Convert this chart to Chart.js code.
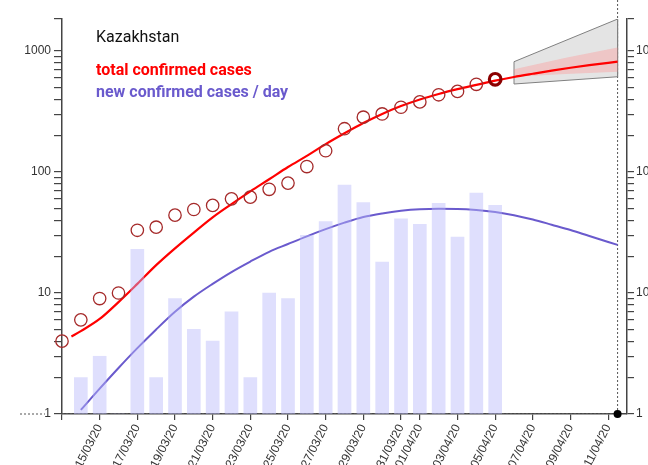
<!DOCTYPE html>
<html><head><meta charset="utf-8">
<script src="https://cdn.jsdelivr.net/npm/chart.js@4"></script>
<style>html,body{margin:0;padding:0;background:#fff;overflow:hidden}#wrap{width:648px;height:465px;overflow:hidden;position:relative}</style>
</head><body><div id="wrap"><canvas id="c" width="648" height="465"></canvas></div>
<script>
// ---- data (days since 13/03/20) ----
const caseDays   = [0,1,2,3,4,5,6,7,8,9,10,11,12,13,14,15,16,17,18,19,20,21,22,23];
const totalCases = [4,6,9,10,33,35,44,49,53,60,62,72,81,111,150,228,284,302,343,380,435,464,531,584];
const newDays    = [1,2,3,4,5,6,7,8,9,10,11,12,13,14,15,16,17,18,19,20,21,22,23];
const newCases   = [2,3,1,23,2,9,5,4,7,2,10,9,30,39,78,56,18,41,37,55,29,67,53];
const fitDays    = [0.5,1,2,3,4,5,6,7,8,9,10,11,12,13,14,15,16,17,18,19,20,21,22,23,24,25,26,27,28,29.5];
const fitTotal   = [4.37,4.84,6.1,8.41,11.9,17.0,23.4,31.6,42.2,54.3,69.2,87.1,110,136,170,209,254,302,351,398,442,484,525,569,610,649,689,728,764,817];
const fitNewDays = [1,2,3,4,5,6,7,8,9,10,11,12,13,14,15,16,17,18,19,20,21,22,23,24,25,26,27,28,29.5];
const fitNew     = [1.08,1.62,2.4,3.5,5.0,7.0,9.33,11.9,14.9,18.2,21.9,25.4,29.4,33.7,38.2,42.5,45.5,47.8,49.2,49.6,49.5,48.6,46.8,44,40.5,36.7,33.2,29.6,25];
const outerDays  = [24,24,29.5,29.5,24];
const outerVals  = [534,816,1838,613,534];
const innerDays  = [24,26.75,29.5,29.5,26.75,24];
const innerVals  = [613,645,675,1070,880,706];
const forecastEnd = 29.5;
const xTickDays   = [0,2,4,6,8,10,12,14,16,18,19,21,23,25,27,29];
const xTickLabels = ['','15/03/20','17/03/20','19/03/20','21/03/20','23/03/20','25/03/20','27/03/20','29/03/20','31/03/20','01/04/20','03/04/20','05/04/20','07/04/20','09/04/20','11/04/20'];
const yTickValues = [1,2,3,4,5,6,7,8,9,10,20,30,40,50,60,70,80,90,100,200,300,400,500,600,700,800,900,1000,1840];
const yLabelled   = [1,10,100,1000];
const yMin = 1, yMax = 1840, xMin = 0, xMax = 30;

const pts = (xs, ys) => xs.map((x, i) => ({x, y: ys[i]}));
const lastIdx = caseDays.length - 1;

const axisColor = '#444';
const tickFont = {family: 'Liberation Sans', size: 12};
function yAxis(pos, w, tl, pad) {
  return {
    type: 'logarithmic', position: pos, min: yMin, max: yMax, bounds: 'data', offset: false,
    afterFit(s) { s.width = w; },
    afterBuildTicks(s) { s.ticks = yTickValues.map(v => ({value: v})); },
    ticks: {autoSkip: false, padding: pad, color: '#333', font: tickFont,
      callback: v => yLabelled.includes(v) ? String(v) : ''},
    grid: {display: true, drawOnChartArea: false, drawTicks: true, tickLength: tl, color: axisColor, lineWidth: 1.2, offset: false},
    border: {display: true, color: axisColor, width: 1.5}
  };
}

const overlay = {
  id: 'overlay',
  beforeDatasetsDraw(chart) {
    const ctx = chart.ctx, xs = chart.scales.x, ys = chart.scales.y;
    const xe = xs.getPixelForValue(forecastEnd), y1 = ys.getPixelForValue(yMin);
    ctx.save();
    ctx.strokeStyle = '#555'; ctx.lineWidth = 1; ctx.setLineDash([2, 2]);
    ctx.beginPath(); ctx.moveTo(xe, 0); ctx.lineTo(xe, y1); ctx.stroke();
    ctx.beginPath(); ctx.moveTo(20, y1); ctx.lineTo(45, y1); ctx.stroke();
    ctx.beginPath(); ctx.moveTo(chart.chartArea.left, y1 - 0.5); ctx.lineTo(xe, y1 - 0.5); ctx.stroke();
    ctx.restore();
  },
  afterDraw(chart) {
    const ctx = chart.ctx;
    ctx.save();
    ctx.textBaseline = 'alphabetic'; ctx.textAlign = 'left';
    ctx.font = '16px Roboto'; ctx.fillStyle = '#111';
    ctx.fillText('Kazakhstan', 96, 41.5);
    ctx.font = 'bold 16px Roboto'; ctx.fillStyle = '#ff0000';
    ctx.fillText('total confirmed cases', 96, 75);
    ctx.fillStyle = '#6a5acd';
    ctx.fillText('new confirmed cases / day', 96, 96.5);
    ctx.restore();
  }
};

new Chart(document.getElementById('c'), {
  type: 'line',
  data: {
    datasets: [
      {type: 'scatter', data: [{x: forecastEnd, y: yMin}], pointRadius: 4, pointBackgroundColor: '#000', pointBorderWidth: 0, clip: false, order: 0},
      {type: 'scatter', data: pts(caseDays, totalCases), showLine: false,
        pointRadius: caseDays.map((d, i) => i === lastIdx ? 5.8 : 6.2),
        pointBorderWidth: caseDays.map((d, i) => i === lastIdx ? 3.2 : 1.3),
        pointBorderColor: caseDays.map((d, i) => i === lastIdx ? '#8b0000' : '#a52a2a'),
        pointBackgroundColor: 'rgba(0,0,0,0)', clip: false, order: 1},
      {type: 'bar', data: pts(newDays, newCases), backgroundColor: 'rgba(185,185,250,0.45)', barThickness: 13, order: 2},
      {data: pts(fitDays, fitTotal), borderColor: '#ff0000', borderWidth: 2.2, pointRadius: 0, cubicInterpolationMode: 'monotone', fill: false, order: 3},
      {data: pts(fitNewDays, fitNew), borderColor: '#6a5acd', borderWidth: 2, pointRadius: 0, cubicInterpolationMode: 'monotone', fill: false, order: 4},
      {data: pts(innerDays, innerVals), borderWidth: 0, borderColor: 'rgba(0,0,0,0)', backgroundColor: 'rgba(255,140,140,0.35)', pointRadius: 0, tension: 0, fill: 'shape', order: 5},
      {data: pts(outerDays, outerVals), borderWidth: 1, borderColor: '#808080', backgroundColor: 'rgba(190,190,190,0.42)', pointRadius: 0, tension: 0, fill: 'shape', order: 6}
    ]
  },
  options: {
    responsive: false, animation: false, devicePixelRatio: 1,
    layout: {padding: {top: 19, left: 0, right: 0, bottom: 0}},
    plugins: {legend: {display: false}, tooltip: {enabled: false}, title: {display: false}},
    scales: {
      x: {
        type: 'linear', min: xMin, max: xMax, bounds: 'data', offset: false,
        afterFit(s) { s.height = 51; },
        afterBuildTicks(s) { s.ticks = xTickDays.map(v => ({value: v})); },
        ticks: {autoSkip: false, minRotation: 63, maxRotation: 63, padding: 2, color: '#333', font: tickFont,
          callback: (v, i) => xTickLabels[i]},
        grid: {display: true, drawOnChartArea: false, drawTicks: true, tickLength: 6, color: axisColor, lineWidth: 1.2, offset: false},
        border: {display: true, color: axisColor, width: 1.5}
      },
      y: yAxis('left', 62, 8, 3),
      y2: yAxis('right', 21, 7, 2)
    }
  },
  plugins: [overlay]
});
</script></body></html>
